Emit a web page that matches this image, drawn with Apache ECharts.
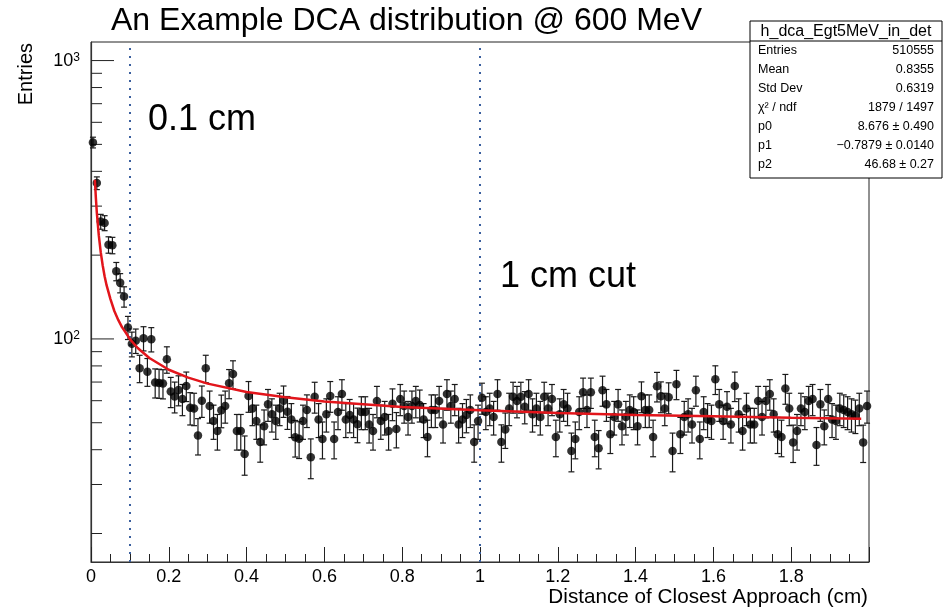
<!DOCTYPE html>
<html>
<head>
<meta charset="utf-8">
<script src="https://cdn.jsdelivr.net/npm/echarts@6/dist/echarts.min.js"></script>
<style>
html, body { margin: 0; padding: 0; background: #fff; }
#chart { width: 944px; height: 612px; }
</style>
</head>
<body>
<div id="chart"></div>
<script>
// histogram: 200 bins of 0.01 cm, counts
const binWidth = 0.01;
const counts = [
  508, 363, 264, 261, 218, 217, 175, 159, 142, 110,
  96, 98.6, 78.5, 100.6, 76.3, 99.8, 69.7, 69.5, 69.2, 84.5,
  64.7, 62.1, 65.6, 60.8, 67.8, 56.6, 56.3, 45, 60, 78.5,
  57.4, 50.7, 46.7, 55.4, 57.4, 69.3, 74.8, 46.7, 46.7, 38.6,
  62.4, 56.3, 50.7, 42.6, 48.6, 58.2, 53.6, 50.7, 56.3, 60,
  54.7, 51.4, 44.3, 43.8, 50.7, 55.5, 37.6, 62, 51.4, 43.7,
  53.6, 62.4, 43.7, 54.6, 63.4, 51.4, 53.3, 51.4, 49.4, 54.6,
  54.6, 49.3, 46.7, 59.8, 50.7, 52.4, 46.7, 58.5, 47.5, 60.8,
  57.4, 52.4, 57.4, 59.8, 57.9, 51.4, 44.4, 55.5, 55.5, 59.8,
  49.3, 63.4, 57.4, 60.8, 49.3, 51.4, 53.3, 55.5, 42.6, 50.7,
  61.5, 54.6, 56.3, 52.4, 63.4, 42.6, 47.3, 56.3, 62, 59.8,
  62, 57.1, 63.4, 53.6, 56.3, 52.4, 62, 56.3, 60.8, 44.4,
  53.6, 58.2, 56.3, 39.6, 43.7, 54.6, 64.3, 55.5, 64.3, 44.4,
  40.5, 65.4, 58.2, 45.5, 52.4, 58.2, 48.6, 52.4, 55.5, 54.6,
  48.6, 62.2, 55.5, 55.5, 44.4, 67.6, 62.2, 56.3, 61.7, 39.6,
  68.8, 45.5, 52.4, 53.6, 49.3, 65.4, 43.7, 54.6, 51.4, 50.7,
  71.6, 58.2, 50.7, 57.1, 49.3, 67.8, 53.6, 46.7, 56.3, 49.3,
  49.3, 59.8, 52.4, 59.8, 63.4, 53.6, 45.5, 44.4, 66.4, 56.3,
  42.5, 46.7, 56.3, 54.6, 59.8, 60.8, 41.6, 58.2, 48.6, 60.8,
  51.4, 50.7, 56.3, 55.5, 54.6, 53.6, 53, 56.3, 42.5, 57.4
];

// red fit curve
const fitX = [0.01, 0.0125, 0.015, 0.02, 0.025, 0.03, 0.035, 0.04, 0.05, 0.06, 0.07, 0.08, 0.09,
  0.1, 0.12, 0.15, 0.2, 0.25, 0.3, 0.4, 0.5, 0.6, 0.8, 1.0, 1.2, 1.4, 1.6, 1.8, 1.98];
const fitY = [373, 321, 284, 236, 205, 184, 168, 156, 139, 126, 117, 110, 105,
  99.9, 92.8, 85.4, 77.5, 72.6, 69.1, 64.5, 61.7, 59.6, 57.0, 55.4, 54.2, 53.3, 52.7, 52.1, 51.7];

const cutLines = [0.1, 1.0];
const yMajorTicks = [100, 1000];
const yMinorTicks = [20, 30, 40, 50, 60, 70, 80, 90, 200, 300, 400, 500, 600, 700, 800, 900];

const statsTitle = 'h_dca_Egt5MeV_in_det';
const statsNames = ['Entries', 'Mean', 'Std Dev', 'χ² / ndf', 'p0', 'p1', 'p2'];
const statsValues = ['510555', '0.8355', '0.6319', '1879 / 1497', '8.676 ± 0.490', '−0.7879 ± 0.0140', '46.68 ± 0.27'];

const FONT = 'Liberation Sans, Arial, Helvetica, sans-serif';

var myChart = echarts.init(document.getElementById('chart'));

const points = counts.map((c, i) => [(i + 0.5) * binWidth, c, Math.sqrt(c)]);
const fitData = fitX.map((x, i) => [x, fitY[i]]);
const yTicks = yMajorTicks.map(v => [0, v, 23]).concat(yMinorTicks.map(v => [0, v, 11]));

// stats box
const box = { x: 750, y: 21, w: 192, h: 157, head: 20, row: 19 };
const graphics = [
  { type: 'rect', z: 100, shape: { x: box.x, y: box.y, width: box.w, height: box.h },
    style: { fill: '#fff', stroke: '#000', lineWidth: 1 } },
  { type: 'line', z: 101, shape: { x1: box.x, y1: box.y + box.head, x2: box.x + box.w, y2: box.y + box.head },
    style: { stroke: '#000', lineWidth: 1 } },
  { type: 'text', z: 101, x: box.x + box.w / 2, y: box.y + box.head / 2 + 1,
    style: { text: statsTitle, font: '16px ' + FONT, fill: '#000', align: 'center', verticalAlign: 'middle',
      textAlign: 'center', textVerticalAlign: 'middle' } }
];
statsNames.forEach((n, i) => {
  const yy = box.y + box.head + 10 + i * box.row;
  graphics.push({ type: 'text', z: 101, x: box.x + 8, y: yy,
    style: { text: n, font: '12.5px ' + FONT, fill: '#000', align: 'left', verticalAlign: 'middle',
      textAlign: 'left', textVerticalAlign: 'middle' } });
  graphics.push({ type: 'text', z: 101, x: box.x + box.w - 8, y: yy,
    style: { text: statsValues[i], font: '12.5px ' + FONT, fill: '#000', align: 'right', verticalAlign: 'middle',
      textAlign: 'right', textVerticalAlign: 'middle' } });
});
// titles and annotations
const texts = [
  ['An Example DCA distribution @ 600 MeV', 111, 21, 32, 'left'],
  ['Distance of Closest Approach (cm)', 868, 597, 20.7, 'right'],
  ['0.1 cm', 148, 120, 36, 'left'],
  ['1 cm cut', 500, 277, 36, 'left']
];
texts.forEach(t => {
  graphics.push({ type: 'text', z: 50, x: t[1], y: t[2],
    style: { text: t[0], font: t[3] + 'px ' + FONT, fill: '#000', align: t[4], verticalAlign: 'middle',
      textAlign: t[4], textVerticalAlign: 'middle' } });
});
graphics.push({ type: 'text', z: 50, x: 26, y: 43, rotation: Math.PI / 2,
  style: { text: 'Entries', font: '20px ' + FONT, fill: '#000', align: 'right', verticalAlign: 'middle',
    textAlign: 'right', textVerticalAlign: 'middle' } });

var option = {
  animation: false,
  backgroundColor: '#fff',
  grid: {
    left: 91, right: 75, top: 42, bottom: 50,
    show: true, borderColor: '#222', borderWidth: 1, backgroundColor: 'transparent'
  },
  xAxis: {
    type: 'value', min: 0, max: 2, interval: 0.2,
    axisLine: { show: true, lineStyle: { color: '#333', width: 1.2 } },
    axisTick: { show: true, inside: true, length: 15, lineStyle: { color: '#222' } },
    minorTick: { show: true, splitNumber: 4, length: 8, lineStyle: { color: '#222' } },
    splitLine: { show: false },
    axisLabel: {
      showMaxLabel: false, margin: 6, color: '#000', fontSize: 18, fontFamily: FONT,
      formatter: v => String(Math.round(v * 10) / 10)
    }
  },
  yAxis: {
    type: 'log', logBase: 10, min: 15.8, max: 1166,
    axisLine: { show: true, lineStyle: { color: '#333', width: 1.2 } },
    axisTick: { show: false },
    splitLine: { show: false },
    axisLabel: {
      showMinLabel: false, showMaxLabel: false, margin: 11, color: '#000',
      formatter: v => '{b|10}{s|' + Math.round(Math.log10(v)) + '}',
      rich: {
        b: { fontSize: 18, fontFamily: FONT, color: '#000' },
        s: { fontSize: 12, fontFamily: FONT, color: '#000', verticalAlign: 'top' }
      }
    }
  },
  graphic: graphics,
  series: [
    {
      // y axis ticks (log-spaced, drawn inward)
      type: 'custom', silent: true, clip: false, z: 3,
      data: yTicks,
      renderItem: (params, api) => {
        const p = api.coord([api.value(0), api.value(1)]);
        return { type: 'line', shape: { x1: p[0], y1: p[1], x2: p[0] + api.value(2), y2: p[1] },
          style: { stroke: '#222', lineWidth: 1 } };
      }
    },
    {
      // error bars
      type: 'custom', silent: true, z: 4,
      data: points,
      renderItem: (params, api) => {
        const x = api.value(0), y = api.value(1), e = api.value(2);
        const hi = api.coord([x, y + e]);
        const lo = api.coord([x, y - e]);
        const st = { stroke: '#1a1a1a', lineWidth: 1.2 };
        return { type: 'group', children: [
          { type: 'line', shape: { x1: hi[0], y1: hi[1], x2: lo[0], y2: lo[1] }, style: st },
          { type: 'line', shape: { x1: hi[0] - 3, y1: hi[1], x2: hi[0] + 3, y2: hi[1] }, style: st },
          { type: 'line', shape: { x1: lo[0] - 3, y1: lo[1], x2: lo[0] + 3, y2: lo[1] }, style: st }
        ] };
      }
    },
    {
      type: 'scatter', z: 5, symbol: 'circle', symbolSize: 8.5,
      itemStyle: { color: '#000' },
      data: points.map(p => [p[0], p[1]]),
      markLine: {
        silent: true, symbol: 'none', label: { show: false },
        lineStyle: { color: '#3a5f9e', width: 2, type: [2, 6] },
        data: cutLines.map(v => ({ xAxis: v }))
      }
    },
    {
      type: 'line', z: 6, showSymbol: false, smooth: false,
      lineStyle: { color: '#e2151b', width: 2.5 },
      data: fitData
    }
  ]
};
myChart.setOption(option);
</script>
</body>
</html>
